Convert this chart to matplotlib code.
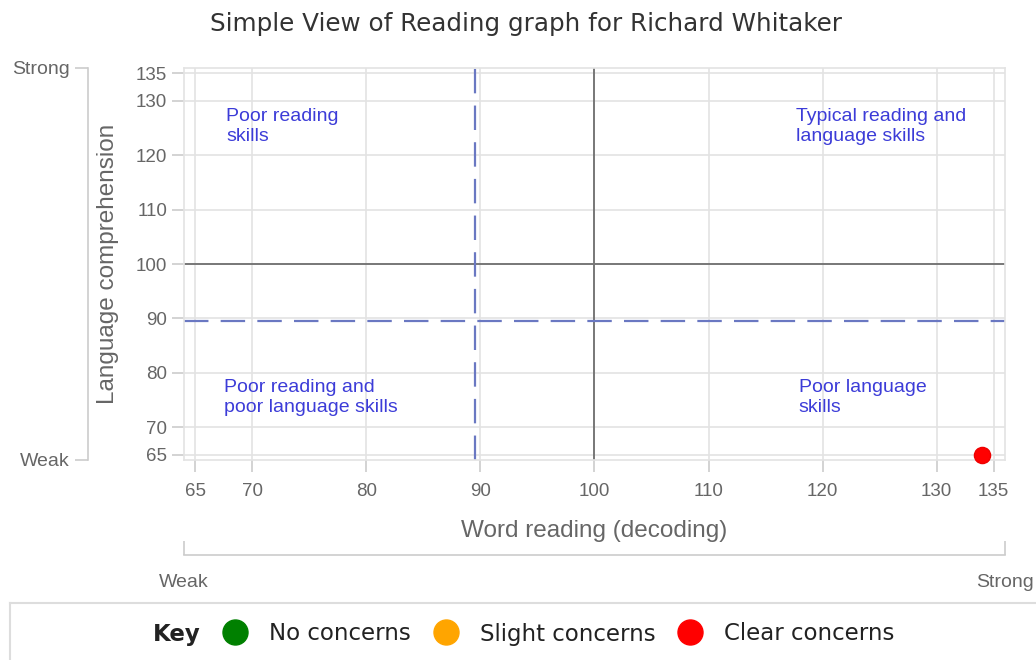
import matplotlib.pyplot as plt
from matplotlib.lines import Line2D

# data
word_reading = [134]
lang_comp = [65]
point_colours = ['#ff0000']

ticks = [65, 70, 80, 90, 100, 110, 120, 130, 135]
axis_min, axis_max = 64, 136
average = 100
concern_line = 89.5

quadrant_labels = ['Poor reading\nskills', 'Typical reading and\nlanguage skills',
                   'Poor reading and\npoor language skills', 'Poor language\nskills']
quadrant_x = [67.7, 117.7, 67.5, 117.9]
quadrant_y = [128.7, 128.7, 78.9, 78.9]

key_labels = ['No concerns', 'Slight concerns', 'Clear concerns']
key_colours = ['#008000', '#ffa500', '#ff0000']

GRID = '#e3e3e3'
LIGHT = '#cccccc'
TXT = '#666666'
BLUE = '#3c3cd8'

plt.rcParams['font.family'] = ['Liberation Sans', 'DejaVu Sans']

fig = plt.figure(figsize=(10.36, 6.6), dpi=100)
ax = fig.add_axes([184 / 1036, 200 / 660, 821 / 1036, 392 / 660])

ax.set_xlim(axis_min, axis_max)
ax.set_ylim(axis_min, axis_max)
ax.set_xticks(ticks)
ax.set_yticks(ticks)
ax.grid(True, color=GRID, linewidth=1.2)
ax.set_axisbelow(True)
for s in ax.spines.values():
    s.set_color(GRID)
    s.set_linewidth(1.2)
ax.tick_params(colors=LIGHT, labelcolor=TXT, labelsize=13.5, length=8.6, width=1.2)
ax.tick_params(axis='x', pad=8)
ax.tick_params(axis='y', pad=3.6)

ax.axhline(average, color='#777777', lw=1.4)
ax.axvline(average, color='#777777', lw=1.4)
ax.axhline(concern_line, color='#6a78c2', lw=1.6, dashes=(11, 5.5))
ax.axvline(concern_line, color='#6a78c2', lw=1.6, dashes=(11, 5.5))

for lab, qx, qy in zip(quadrant_labels, quadrant_x, quadrant_y):
    ax.text(qx, qy, lab, color=BLUE, fontsize=14, va='top', ha='left',
            linespacing=1.24)

ax.scatter(word_reading, lang_comp, s=135, c=point_colours, zorder=5,
           edgecolors='#ee0000', linewidths=1, clip_on=False)

ax.set_xlabel('Word reading (decoding)', fontsize=17.5, color=TXT, labelpad=14)
ax.set_ylabel('Language comprehension', fontsize=17.5, color=TXT, labelpad=12)

# weak / strong scales
sy = ax.secondary_yaxis(-96 / 821)
sy.set_yticks([axis_min, axis_max], ['Weak', 'Strong'])
sy.tick_params(colors=LIGHT, labelcolor=TXT, labelsize=14, length=9.4, width=1.2, pad=4)
sy.spines['left'].set_color(LIGHT)
sy.spines['left'].set_linewidth(1.2)

sx = ax.secondary_xaxis(-95 / 392)
sx.set_xticks([axis_min, axis_max], ['Weak', 'Strong'])
sx.tick_params(colors=LIGHT, labelcolor=TXT, labelsize=14, length=10, width=1.2,
               direction='in', pad=13.5)
sx.spines['bottom'].set_color(LIGHT)
sx.spines['bottom'].set_linewidth(1.2)

# key box
kax = fig.add_axes([10 / 1036, -0.01, 1.0, 57 / 660 + 0.01])
kax.set_xticks([])
kax.set_yticks([])
for s in kax.spines.values():
    s.set_color('#dddddd')
    s.set_linewidth(1.5)

handles = [Line2D([], [], linestyle='none')]
handles += [Line2D([], [], marker='o', linestyle='none', markersize=18,
                   markerfacecolor=c, markeredgecolor=c) for c in key_colours]
leg = fig.legend(handles, ['Key'] + key_labels, ncol=4, frameon=False,
                 loc='center', bbox_to_anchor=(500 / 1036, 26 / 660),
                 handlelength=1.15, handletextpad=0.9, columnspacing=0.95,
                 prop={'family': 'DejaVu Sans', 'size': 16.5})
for t in leg.get_texts():
    t.set_color('#222222')
leg.get_texts()[0].set_fontweight('bold')

fig.suptitle('Simple View of Reading graph for Richard Whitaker', x=526 / 1036,
             y=0.982, fontsize=17.7, color='#333333', family='DejaVu Sans')

fig.savefig('out.png', dpi=100)
